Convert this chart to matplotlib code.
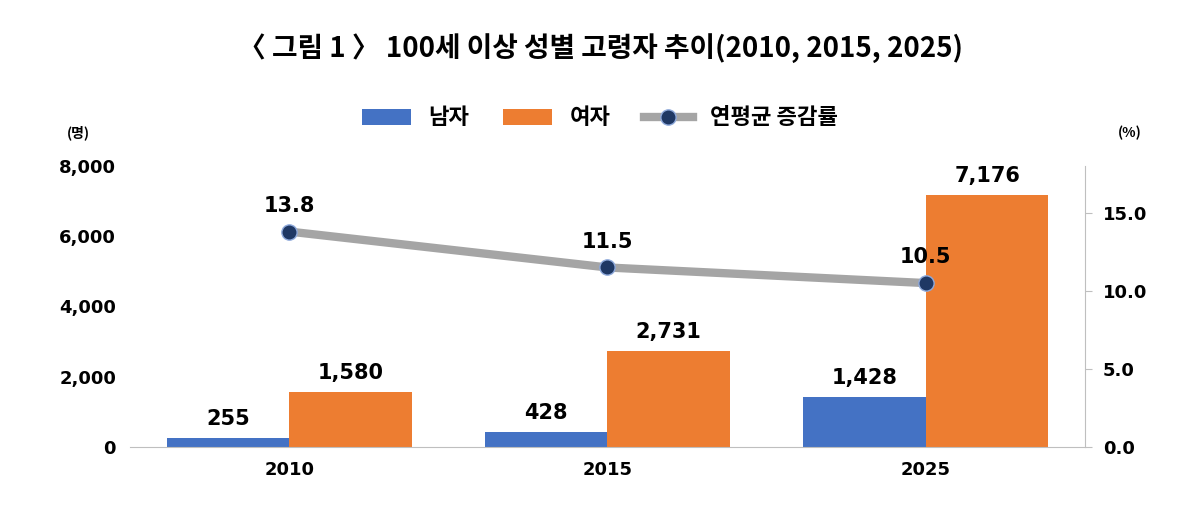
import matplotlib.pyplot as plt
import numpy as np

plt.rcParams['font.family'] = ['Noto Sans CJK KR', 'DejaVu Sans']

years = ['2010', '2015', '2025']
male = [255, 428, 1428]
female = [1580, 2731, 7176]
growth = [13.8, 11.5, 10.5]

fig = plt.figure(figsize=(12, 5.07), dpi=100)
ax = fig.add_axes([130/1200, 60/507, 955/1200, 281/507])
x = np.arange(len(years))
w = 0.385
b1 = ax.bar(x - w/2, male, w, color='#4472C4', label='남자')
b2 = ax.bar(x + w/2, female, w, color='#ED7D31', label='여자')
for bars in (b1, b2):
    for r in bars:
        ax.text(r.get_x() + r.get_width()/2, r.get_height() + 250, f'{int(r.get_height()):,}',
                ha='center', va='bottom', fontsize=15, fontweight='bold', family='DejaVu Sans')
ax.set_xlim(-0.5, 2.5)
ax.set_ylim(0, 8000)
ax.set_yticks([0, 2000, 4000, 6000, 8000])
ax.set_yticklabels([f'{v:,}' for v in [0, 2000, 4000, 6000, 8000]], fontweight='bold', fontsize=13, family='DejaVu Sans')
ax.set_xticks(x)
ax.set_xticklabels(years, fontweight='bold', fontsize=13, family='DejaVu Sans')
ax.tick_params(length=0, pad=10)
for s in ['top', 'left', 'right']:
    ax.spines[s].set_visible(False)
ax.spines['bottom'].set_color('#bfbfbf')

ax2 = ax.twinx()
ln, = ax2.plot(x, growth, color='#A5A5A5', lw=6, marker='o', markersize=11,
               markerfacecolor='#1F3864', markeredgecolor='#8faadc', label='연평균 증감률')
for xi, g in zip(x, growth):
    ax2.text(xi, g + 1.0, f'{g}', ha='center', va='bottom', fontsize=15, fontweight='bold', family='DejaVu Sans')
ax2.set_ylim(0, 18)
ax2.set_yticks([0, 5, 10, 15])
ax2.set_yticklabels([f'{v:.1f}' for v in [0, 5, 10, 15]], fontweight='bold', fontsize=13, family='DejaVu Sans')
ax2.tick_params(length=5, color='#bfbfbf', pad=8)
for s in ['top', 'left', 'bottom']:
    ax2.spines[s].set_visible(False)
ax2.spines['right'].set_color('#bfbfbf')

fig.legend(handles=[b1, b2, ln], loc='center', bbox_to_anchor=(0.5, 118/507 and 1 - 118/507),
           ncol=3, frameon=False, prop={'size': 16, 'weight': 'bold'}, handlelength=2.2, columnspacing=1.5)
fig.text(0.5, 1 - 48/507, '〈 그림 1 〉 100세 이상 성별 고령자 추이(2010, 2015, 2025)',
         ha='center', va='center', fontsize=20, fontweight='bold')
fig.text(78/1200, 1 - 133/507, '(명)', ha='center', va='center', fontsize=10, fontweight='bold')
fig.text(1130/1200, 1 - 133/507, '(%)', ha='center', va='center', fontsize=10, fontweight='bold')
fig.savefig('out.png', dpi=100)
